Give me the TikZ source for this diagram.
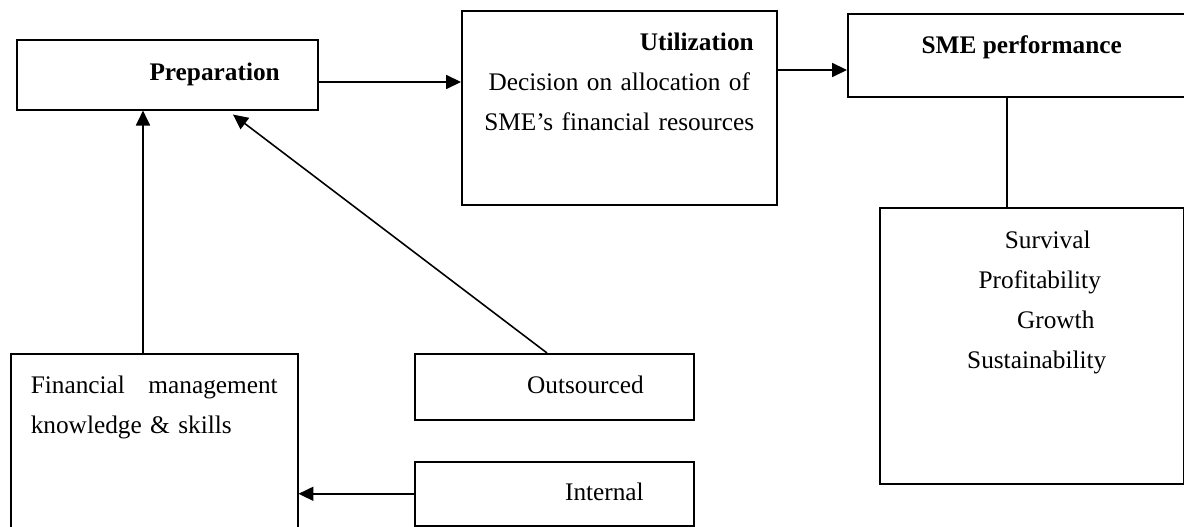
\documentclass[tikz,border=0pt]{standalone}
\usepackage{fontspec}
\setmainfont{Liberation Serif}
\usepackage{tikz}
\usetikzlibrary{arrows.meta}

\begin{document}
\begin{tikzpicture}[
  x=0.02cm, y=-0.02cm,
  line width=0.9pt,
  box/.style={draw, anchor=north west, inner ysep=0pt, text height=0.8cm,
    font=\fontsize{14.4pt}{22.8pt}\selectfont},
  side/.style={box, text width=3.58cm, inner xsep=1cm, align=right},
  >={Triangle[length=8.5pt,width=8pt]}
]
\useasboundingbox (0,0) rectangle (1184,527);

\node[box, text width=4.5cm, inner xsep=0.76cm, align=right, text height=0.82cm, text depth=0.58cm] (prep) at (16,39) {\textbf{Preparation}};
\node[box, text width=5.9cm, inner xsep=0.2cm, align=center, text depth=3.08cm] (util) at (461,10) {\makebox[5.9cm][r]{\textbf{Utilization}\hspace*{0.26cm}}\\ Decision on allocation of\\ SME’s financial resources};
\node[box, minimum width=6.96cm, align=center, text depth=0.86cm] (sme) at (847,13) {\textbf{SME performance}};
\node[box, text width=6.08cm, inner xsep=0pt, align=center, text height=0.82cm, text depth=4.7cm] (surv) at (879,207) {\hspace*{0.64cm}Survival\\ \hspace*{0.32cm}Profitability\\ \hspace*{0.96cm}Growth\\ \hspace*{0.2cm}Sustainability};
\node[box, text width=4.94cm, inner xsep=0.4cm, align=left, text depth=2.94cm] (fin) at (10,353) {Financial\hfill management\\ knowledge \& skills};
\node[side, text depth=0.52cm] (outs) at (414,353) {Outsourced};
\node[side, text height=0.78cm, text depth=0.5cm] (intl) at (414,461) {Internal};

\draw[->] (prep.east |- 0,82) -- (util.west |- 0,82);
\draw[->] (util.east |- 0,70) -- (sme.west |- 0,70);
\draw (sme.south -| 1007,0) -- (surv.north -| 1007,0);
\draw[->] (fin.north -| 143,0) -- (prep.south -| 143,0);
\draw[->] (outs.north -| 547,0) -- ([yshift=-0.08cm]prep.south -| 233,0);
\draw[->] (intl.west) -- (intl.west -| fin.east);
\end{tikzpicture}
\end{document}
